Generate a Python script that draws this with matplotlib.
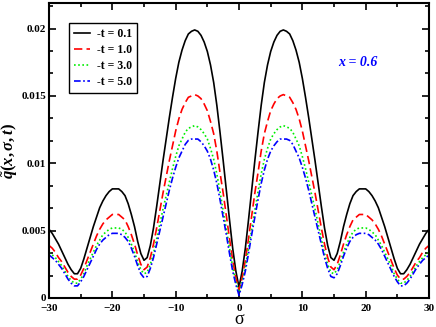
import matplotlib
matplotlib.use("Agg")
import matplotlib.pyplot as plt
from matplotlib.ticker import MultipleLocator

# half curves for sigma = 0, 0.5, ..., 30 (curves are symmetric in sigma)
sigma_half = [i * 0.5 for i in range(61)]
q_t01 = [0.0008, 0.0020, 0.0037, 0.0058, 0.0080, 0.0102, 0.0123, 0.0143, 0.0160, 0.0173,
         0.0183, 0.0190, 0.0195, 0.0198, 0.0199, 0.0198, 0.0196, 0.0191, 0.0184, 0.0175,
         0.0163, 0.0149, 0.0134, 0.0118, 0.0102, 0.0085, 0.0068, 0.0052, 0.0039, 0.0030,
         0.0028, 0.0033, 0.0042, 0.0053, 0.0062, 0.0070, 0.0076, 0.0079, 0.0081, 0.0081,
         0.0081, 0.0079, 0.0076, 0.0072, 0.0067, 0.0060, 0.0053, 0.0045, 0.0037, 0.0029,
         0.0022, 0.0018, 0.0018, 0.0021, 0.0025, 0.0030, 0.0035, 0.0040, 0.0044, 0.0048,
         0.0051]
q_t10 = [0.0006, 0.0015, 0.0028, 0.0044, 0.0061, 0.0078, 0.0093, 0.0109, 0.0122, 0.0131,
         0.0139, 0.0144, 0.0148, 0.0150, 0.0151, 0.0150, 0.0149, 0.0145, 0.0140, 0.0133,
         0.0124, 0.0113, 0.0102, 0.0090, 0.0078, 0.0065, 0.0052, 0.0040, 0.0030, 0.0023,
         0.0021, 0.0025, 0.0032, 0.0040, 0.0047, 0.0053, 0.0058, 0.0060, 0.0062, 0.0062,
         0.0062, 0.0060, 0.0058, 0.0055, 0.0051, 0.0046, 0.0040, 0.0034, 0.0028, 0.0022,
         0.0017, 0.0014, 0.0014, 0.0016, 0.0019, 0.0023, 0.0027, 0.0030, 0.0034, 0.0037,
         0.0039]
q_t30 = [0.0004, 0.0012, 0.0023, 0.0037, 0.0051, 0.0065, 0.0079, 0.0092, 0.0103, 0.0111,
         0.0118, 0.0122, 0.0125, 0.0127, 0.0128, 0.0127, 0.0126, 0.0123, 0.0118, 0.0113,
         0.0105, 0.0096, 0.0086, 0.0076, 0.0066, 0.0055, 0.0044, 0.0033, 0.0025, 0.0019,
         0.0018, 0.0021, 0.0027, 0.0034, 0.0040, 0.0045, 0.0049, 0.0051, 0.0052, 0.0052,
         0.0052, 0.0051, 0.0049, 0.0047, 0.0043, 0.0039, 0.0034, 0.0029, 0.0024, 0.0018,
         0.0014, 0.0011, 0.0011, 0.0013, 0.0016, 0.0020, 0.0024, 0.0027, 0.0030, 0.0032,
         0.0034]
q_t50 = [0.0002, 0.0010, 0.0020, 0.0033, 0.0047, 0.0060, 0.0073, 0.0085, 0.0095, 0.0103,
         0.0109, 0.0113, 0.0116, 0.0118, 0.0118, 0.0118, 0.0117, 0.0114, 0.0109, 0.0104,
         0.0097, 0.0089, 0.0080, 0.0070, 0.0060, 0.0050, 0.0040, 0.0030, 0.0022, 0.0016,
         0.0015, 0.0018, 0.0024, 0.0031, 0.0037, 0.0042, 0.0045, 0.0047, 0.0048, 0.0048,
         0.0048, 0.0047, 0.0045, 0.0043, 0.0040, 0.0036, 0.0031, 0.0026, 0.0021, 0.0016,
         0.0012, 0.0009, 0.0009, 0.0011, 0.0014, 0.0018, 0.0022, 0.0025, 0.0028, 0.0030,
         0.0032]
labels = ["-t = 0.1", "-t = 1.0", "-t = 3.0", "-t = 5.0"]
colors = ["black", "#ff0000", "#00ee00", "#0000ff"]
styles = ["-", (0, (5, 2.5)), (0, (1, 1.5)), (0, (4, 1.5, 1, 1.5))]


def mirror(vals):
    return vals[::-1] + vals[1:]


sigma = [-s for s in sigma_half[::-1]] + sigma_half[1:]

plt.rcParams['font.family'] = ['Liberation Serif', 'DejaVu Serif']
plt.rcParams['font.weight'] = 'bold'
plt.rcParams['mathtext.fontset'] = 'custom'
plt.rcParams['mathtext.it'] = 'Liberation Serif:bold:italic'
plt.rcParams['mathtext.rm'] = 'Liberation Serif:bold'

fig = plt.figure(figsize=(4.36, 3.27), dpi=100)
ax = fig.add_axes([0.1124, 0.0887, 0.8716, 0.9021])

for vals, lab, c, ls in zip([q_t01, q_t10, q_t30, q_t50], labels, colors, styles):
    ax.plot(sigma, mirror(vals), color=c, linestyle=ls, lw=1.2, label=lab)

ax.set_xlim(-30, 30)
ax.set_ylim(0, 0.0219)
ax.xaxis.set_major_locator(MultipleLocator(10))
ax.xaxis.set_minor_locator(MultipleLocator(5))
ax.set_yticks([0, 0.005, 0.01, 0.015, 0.02])
ax.set_yticklabels(["0", "0.005", "0.01", "0.015", "0.02"])
ax.yaxis.set_minor_locator(MultipleLocator(0.005 / 3))
ax.tick_params(which='both', direction='in', top=True, right=True, width=1.2,
               labelsize=8)
ax.tick_params(axis='y', pad=2)
ax.tick_params(axis='x', pad=4)
ax.tick_params(which='major', length=5)
ax.tick_params(which='minor', length=3)
for sp in ax.spines.values():
    sp.set_linewidth(1.5)

ax.set_xlabel("σ", fontsize=13, fontweight='normal', labelpad=-1)
ax.set_ylabel(r"$\tilde{q}(x,\sigma,t)$", fontsize=12)
ax.yaxis.set_label_coords(-0.078, 0.5)

ax.text(18.8, 0.0175, "x = 0.6", color='#0000ff', fontsize=10, style='italic',
        fontweight='bold', ha='center', va='center')

leg = ax.legend(loc='upper left', bbox_to_anchor=(0.053, 0.932), borderaxespad=0,
                fontsize=8.5, fancybox=False, framealpha=1, handlelength=1.4,
                handletextpad=0.6, borderpad=0.4, labelspacing=0.35)
leg.get_frame().set_edgecolor('black')
leg.get_frame().set_linewidth(1.0)

fig.savefig("out.png", dpi=100)
